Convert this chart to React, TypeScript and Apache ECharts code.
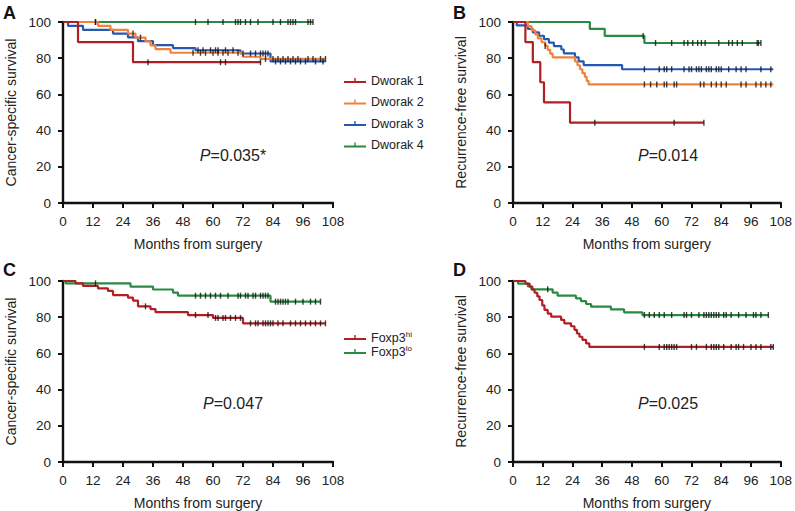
import React, { useEffect, useRef } from "react";
import * as echarts from "echarts";

// ---------- names / labels ----------
const dworakNames = ["Dworak 1", "Dworak 2", "Dworak 3", "Dworak 4"];
const foxpNames = ["Foxp3hi", "Foxp3lo"];
const panelLetters = ["A", "B", "C", "D"];
const yTitles = ["Cancer-specific survival", "Recurrence-free survival", "Cancer-specific survival", "Recurrence-free survival"];
const xTitle = "Months from surgery";
const pValues = ["0.035*", "0.014", "0.047", "0.025"];

// ---------- Panel A: cancer-specific survival by Dworak ----------
const a1Events = [6, 28];
const a1Surv = [88.9, 77.8];
const a1End = 79;
const a1Cens = [34, 63, 65, 79];

const a2Events = [14, 19, 26, 29, 33, 35, 37, 43, 72, 79];
const a2Surv = [97.9, 95.7, 93.6, 91.4, 89.3, 87.1, 85.0, 83.0, 80.8, 79.6];
const a2End = 105;
const a2Cens = [13, 28, 31, 52, 55, 57, 60, 62, 64, 66, 70, 81, 84, 86, 88, 90, 92, 94, 98, 100, 103, 105];

const a3Events = [2, 8, 20, 26, 30, 36, 44, 53, 71, 83];
const a3Surv = [97.9, 95.7, 93.6, 91.5, 89.4, 87.2, 85.6, 84.4, 82.6, 78.2];
const a3End = 105;
const a3Cens = [54, 56, 59, 61, 62, 65, 68, 72, 75, 77, 79, 80, 81, 82, 85, 87, 89, 91, 93, 95, 97, 101, 104];

const a4Events: number[] = [];
const a4Surv: number[] = [];
const a4End = 100;
const a4Cens = [13, 53, 58, 64, 69, 70, 71, 73, 75, 78, 84, 87, 90, 91, 92, 93, 98, 99, 100];

// ---------- Panel B: recurrence-free survival by Dworak ----------
const b1Events = [5, 8, 11, 12.5, 23];
const b1Surv = [88.9, 77.8, 66.7, 55.6, 44.4];
const b1End = 77;
const b1Cens = [33, 65, 77];

const b2Events = [6, 7.5, 9, 10, 11.5, 13, 14, 15, 16, 25, 26, 27, 28, 29, 29.7, 30.5];
const b2Surv = [97.7, 95.4, 93.1, 91.0, 88.8, 86.8, 84.6, 82.5, 80.5, 78.3, 76.1, 73.9, 71.7, 69.7, 67.5, 65.5];
const b2End = 105;
const b2Cens = [13, 53, 55.5, 58, 61, 62, 65, 66, 75.6, 77, 80, 82, 84, 86, 92, 94, 98, 100, 102, 104];

const b3Events = [1.5, 6, 8, 10.5, 12.5, 14.5, 16.5, 19.5, 20.5, 25, 26.5, 28.5, 44];
const b3Surv = [98.1, 96.2, 94.3, 92.4, 90.5, 88.6, 86.7, 84.8, 82.7, 80.5, 78.3, 76.2, 73.9];
const b3End = 105;
const b3Cens = [53, 59, 61, 62, 64, 69, 71, 72, 74, 75, 76, 78, 79, 80, 82, 83, 84, 87, 90, 92, 94, 100, 104];

const b4Events = [31, 37, 53];
const b4Surv = [96.2, 92.3, 88.4];
const b4End = 100;
const b4Cens = [52.5, 57.5, 64, 69, 70.5, 72.5, 74.5, 76, 77.5, 83, 87, 88.5, 90.5, 92.5, 98.5, 99, 100];

// ---------- Panel C: cancer-specific survival by Foxp3 ----------
const c1Events = [5, 8, 14, 18, 20, 26, 28, 30, 35, 37, 50, 60, 72];
const c1Surv = [98.7, 97.3, 95.9, 94.5, 92.2, 90.8, 89.2, 86.0, 84.5, 82.8, 81.2, 79.6, 76.6];
const c1End = 105;
const c1Cens = [33, 53, 58, 61, 62, 64, 65, 67, 69, 71, 75, 77, 78, 80, 81, 82, 83, 84, 86, 88, 91, 93, 95, 97, 99, 101, 103, 105];

const c2Events = [1, 27, 36, 44, 46, 83];
const c2Surv = [98.7, 96.9, 95.3, 93.6, 91.9, 88.6];
const c2End = 103;
const c2Cens = [13, 53, 55, 57, 59, 61, 63, 66, 70, 71, 73, 74, 76, 77, 79, 80, 81, 82, 85, 86, 87, 88, 89, 90, 93, 96, 99, 101, 103];

// ---------- Panel D: recurrence-free survival by Foxp3 ----------
const d1Events = [5, 6.7, 7.8, 8.7, 9.8, 10.7, 11.8, 12.7, 14, 15.4, 19.4, 20.7, 23.4, 24.8, 25.8, 26.8, 28, 29.5, 30.8];
const d1Surv = [98.6, 96.9, 95.2, 93.5, 91.5, 89.5, 86.5, 84.0, 82.0, 80.3, 78.5, 76.6, 75.0, 73.0, 71.0, 69.2, 67.5, 65.5, 63.6];
const d1End = 105;
const d1Cens = [53, 59, 61, 62, 63, 64, 65, 66, 72, 74, 78, 80, 81, 82, 83, 85, 88, 90, 91, 93, 96, 98, 100, 104, 105];

const d2Events = [2, 6, 7.4, 16, 18, 25.4, 27.4, 29.5, 31.5, 39.5, 44.8, 52.2];
const d2Surv = [98.6, 97.0, 95.4, 93.6, 91.9, 90.4, 88.9, 87.3, 85.8, 84.3, 82.7, 81.2];
const d2End = 103;
const d2Cens = [14, 53, 55, 57, 59, 61, 64, 69, 70, 72, 75, 77, 78, 79, 80, 81, 82, 83, 85, 86, 88, 91, 94, 97, 98, 100, 103];

// ---------- styling ----------
const RED = "#b01f24";
const ORANGE = "#f2823a";
const BLUE = "#2558b2";
const GREEN = "#2b8a41";
const FONT = "'Liberation Sans', Arial, Helvetica, sans-serif";

type Curve = { panel: number; name: string; color: string; events: number[]; surv: number[]; end: number; cens: number[] };

const curves: Curve[] = [
  { panel: 0, name: dworakNames[3], color: GREEN, events: a4Events, surv: a4Surv, end: a4End, cens: a4Cens },
  { panel: 0, name: dworakNames[2], color: BLUE, events: a3Events, surv: a3Surv, end: a3End, cens: a3Cens },
  { panel: 0, name: dworakNames[1], color: ORANGE, events: a2Events, surv: a2Surv, end: a2End, cens: a2Cens },
  { panel: 0, name: dworakNames[0], color: RED, events: a1Events, surv: a1Surv, end: a1End, cens: a1Cens },
  { panel: 1, name: dworakNames[3], color: GREEN, events: b4Events, surv: b4Surv, end: b4End, cens: b4Cens },
  { panel: 1, name: dworakNames[2], color: BLUE, events: b3Events, surv: b3Surv, end: b3End, cens: b3Cens },
  { panel: 1, name: dworakNames[1], color: ORANGE, events: b2Events, surv: b2Surv, end: b2End, cens: b2Cens },
  { panel: 1, name: dworakNames[0], color: RED, events: b1Events, surv: b1Surv, end: b1End, cens: b1Cens },
  { panel: 2, name: foxpNames[1], color: GREEN, events: c2Events, surv: c2Surv, end: c2End, cens: c2Cens },
  { panel: 2, name: foxpNames[0], color: RED, events: c1Events, surv: c1Surv, end: c1End, cens: c1Cens },
  { panel: 3, name: foxpNames[1], color: GREEN, events: d2Events, surv: d2Surv, end: d2End, cens: d2Cens },
  { panel: 3, name: foxpNames[0], color: RED, events: d1Events, surv: d1Surv, end: d1End, cens: d1Cens },
];

function kmPoints(c: Curve): number[][] {
  const pts: number[][] = [[0, 100]];
  c.events.forEach((t, i) => pts.push([t, c.surv[i]]));
  const last = c.surv.length ? c.surv[c.surv.length - 1] : 100;
  pts.push([c.end, last]);
  return pts;
}

function survAt(c: Curve, t: number): number {
  let s = 100;
  c.events.forEach((e, i) => {
    if (e <= t) s = c.surv[i];
  });
  return s;
}

const grids = [
  { left: 63, top: 22, width: 270, height: 181 },
  { left: 513, top: 22, width: 269, height: 181 },
  { left: 63, top: 281, width: 270, height: 181 },
  { left: 513, top: 281, width: 269, height: 181 },
];

export default function App() {
  const ref = useRef<HTMLDivElement>(null);
  useEffect(() => {
    if (!ref.current) return;
    const chart = echarts.init(ref.current, undefined, { renderer: "svg" });

    const axisLine = { show: true, lineStyle: { color: "#111", width: 2.4 } };
    const axisTick = { show: true, length: 5, lineStyle: { color: "#111", width: 2 } };
    const tickStyle = { color: "#222", fontSize: 13.5, fontFamily: FONT };
    const titleStyle = { color: "#222", fontSize: 14, fontFamily: FONT };

    const xAxes = grids.map((_, i) => ({
      type: "value",
      gridIndex: i,
      min: 0,
      max: 108,
      interval: 12,
      axisLine,
      axisTick,
      splitLine: { show: false },
      axisLabel: { ...tickStyle, margin: 11 },
      name: xTitle,
      nameLocation: "middle",
      nameGap: 34,
      nameTextStyle: { ...titleStyle },
    }));
    const yAxes = grids.map((_, i) => ({
      type: "value",
      gridIndex: i,
      min: 0,
      max: 100,
      interval: 20,
      axisLine,
      axisTick,
      splitLine: { show: false },
      axisLabel: { ...tickStyle, margin: 12 },
      name: yTitles[i],
      nameLocation: "middle",
      nameGap: 45,
      nameTextStyle: { ...titleStyle },
    }));

    const series: any[] = [];
    curves.forEach((c) => {
      series.push({
        type: "line",
        name: c.name,
        xAxisIndex: c.panel,
        yAxisIndex: c.panel,
        step: "end",
        showSymbol: false,
        symbol: "none",
        lineStyle: { color: c.color, width: 2.2 },
        itemStyle: { color: c.color },
        data: kmPoints(c),
        silent: true,
        z: 2,
      });
    });
    curves.forEach((c) => {
      series.push({
        type: "scatter",
        name: c.name + " censored",
        xAxisIndex: c.panel,
        yAxisIndex: c.panel,
        symbol: "rect",
        symbolSize: [1.4, 6],
        itemStyle: { color: "#111" },
        data: c.cens.map((t) => [t, survAt(c, t)]),
        silent: true,
        z: 3,
      });
    });

    const legendIcon = "path://M0,4 L22,4 L22,6 L0,6 Z M10.3,1 L11.7,1 L11.7,6 L10.3,6 Z";
    const legendText = { color: "#222", fontSize: 12.5, fontFamily: FONT };

    const letterPos = [
      [3, 4],
      [453, 4],
      [3, 261],
      [453, 261],
    ];
    const pPos = [
      [233, 155],
      [668, 155],
      [233, 403],
      [668, 403],
    ];

    const graphic: any[] = [];
    panelLetters.forEach((l, i) => {
      graphic.push({
        type: "text",
        left: letterPos[i][0],
        top: letterPos[i][1],
        style: { text: l, font: `bold 18px ${FONT}`, fill: "#111" },
      });
    });
    pValues.forEach((p, i) => {
      graphic.push({
        type: "text",
        x: pPos[i][0],
        y: pPos[i][1],
        style: {
          text: "{i|P}{n|=" + p + "}",
          align: "center",
          verticalAlign: "middle",
          fill: "#222",
          rich: {
            i: { fontStyle: "italic", fontSize: 16, fontFamily: FONT, fill: "#222" },
            n: { fontSize: 16, fontFamily: FONT, fill: "#222" },
          },
        },
      });
    });

    chart.setOption({
      animation: false,
      backgroundColor: "#fff",
      grid: grids.map((g) => ({ ...g, containLabel: false })),
      xAxis: xAxes,
      yAxis: yAxes,
      legend: [
        {
          data: dworakNames,
          orient: "vertical",
          left: 344,
          top: 74,
          padding: 0,
          itemWidth: 22,
          itemHeight: 8,
          itemGap: 8.5,
          icon: legendIcon,
          textStyle: legendText,
          selectedMode: false,
        },
        {
          data: foxpNames,
          orient: "vertical",
          left: 344,
          top: 330,
          padding: 0,
          itemWidth: 22,
          itemHeight: 8,
          itemGap: 0,
          icon: legendIcon,
          selectedMode: false,
          formatter: (name: string) => "{b|Foxp3}{s|" + name.slice(5) + "}",
          textStyle: {
            ...legendText,
            rich: {
              b: { fontSize: 12.5, fontFamily: FONT, color: "#222", lineHeight: 15 },
              s: { fontSize: 8, fontFamily: FONT, color: "#222", verticalAlign: "top", lineHeight: 15, padding: [0, 0, 6, 0] },
            },
          },
        },
      ],
      graphic,
      series,
    });

    return () => chart.dispose();
  }, []);

  return <div ref={ref} style={{ position: "fixed", left: 0, top: 0, width: 795, height: 511, background: "#fff" }} />;
}
